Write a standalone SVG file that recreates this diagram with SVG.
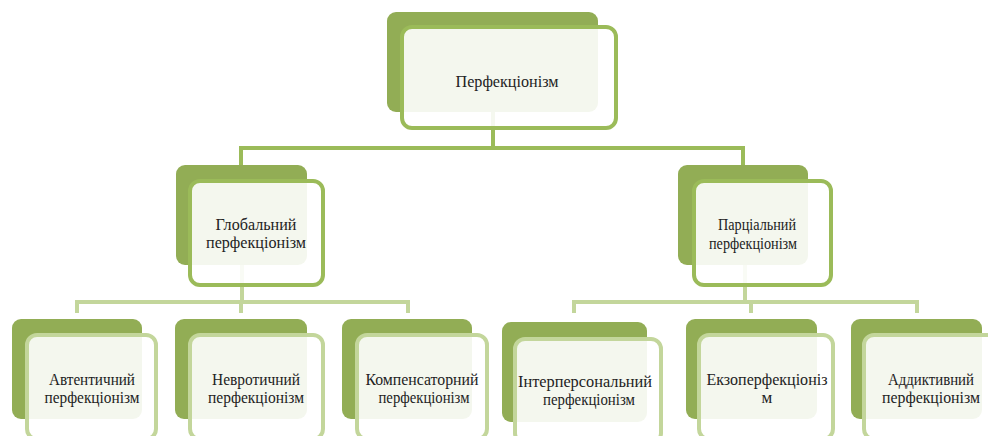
<svg xmlns="http://www.w3.org/2000/svg" width="988" height="436" viewBox="0 0 988 436">
<style>
.back{fill:#92ad55}
.front{fill:#ffffff;fill-opacity:0.9;stroke-width:4}
.f1{stroke:#9bbb59}
.f2{stroke:#c3d69b}
.c1{fill:none;stroke:#9bbb59;stroke-width:4}
.c2{fill:none;stroke:#c3d69b;stroke-width:4}
text{font-family:"Liberation Serif","Times New Roman",serif;font-size:17px;fill:#222222;text-anchor:middle}
</style>
<rect width="988" height="436" fill="#ffffff"/>
<g id="connectors">
<path class="c1" d="M493 112 V148 M241 165 V148 H743 V165"/>
<path class="c2" d="M242 265 V302 M77 313 V302 H408 V313 M241 302 V313"/>
<path class="c2" d="M745 265 V302 M574 313 V302 H917 V313 M751 302 V313"/>
</g>
<g id="node-perfectionism">
<rect class="back" x="387" y="12" width="211" height="100" rx="9"/>
<rect class="front f1" x="402" y="27" width="214" height="101" rx="10"/>
<text x="507" y="87" font-size="18" textLength="103" lengthAdjust="spacingAndGlyphs">Перфекціонізм</text>
</g>
<g id="node-global">
<rect class="back" x="176" y="165" width="131" height="100" rx="9"/>
<rect class="front f1" x="190" y="181" width="133" height="104" rx="10"/>
<text x="256" y="230" textLength="81" lengthAdjust="spacingAndGlyphs">Глобальний</text>
<text x="256" y="248" textLength="100" lengthAdjust="spacingAndGlyphs">перфекціонізм</text>
</g>
<g id="node-partial">
<rect class="back" x="678" y="165" width="130" height="100" rx="9"/>
<rect class="front f1" x="694" y="181" width="137" height="104" rx="10"/>
<text x="757" y="230" textLength="78" lengthAdjust="spacingAndGlyphs">Парціальний</text>
<text x="753" y="249" textLength="88" lengthAdjust="spacingAndGlyphs">перфекціонізм</text>
</g>
<g id="node-authentic">
<rect class="back" x="12" y="319" width="130" height="100" rx="9"/>
<rect class="front f2" x="27" y="335" width="129" height="104" rx="10"/>
<text x="92" y="385" textLength="86" lengthAdjust="spacingAndGlyphs">Автентичний</text>
<text x="92" y="403" textLength="95" lengthAdjust="spacingAndGlyphs">перфекціонізм</text>
</g>
<g id="node-neurotic">
<rect class="back" x="175" y="319" width="132" height="100" rx="9"/>
<rect class="front f2" x="190" y="335" width="133" height="104" rx="10"/>
<text x="256" y="385" textLength="88" lengthAdjust="spacingAndGlyphs">Невротичний</text>
<text x="256" y="403" textLength="96" lengthAdjust="spacingAndGlyphs">перфекціонізм</text>
</g>
<g id="node-compensatory">
<rect class="back" x="342" y="319" width="130" height="100" rx="9"/>
<rect class="front f2" x="357" y="335" width="130" height="104" rx="10"/>
<text x="422" y="385" textLength="113" lengthAdjust="spacingAndGlyphs">Компенсаторний</text>
<text x="424" y="403" textLength="91" lengthAdjust="spacingAndGlyphs">перфекціонізм</text>
</g>
<g id="node-interpersonal">
<rect class="back" x="502" y="322" width="145" height="100" rx="9"/>
<rect class="front f2" x="515" y="339" width="146" height="104" rx="10"/>
<text x="585" y="387" textLength="134" lengthAdjust="spacingAndGlyphs">Інтерперсональний</text>
<text x="589" y="405" textLength="92" lengthAdjust="spacingAndGlyphs">перфекціонізм</text>
</g>
<g id="node-exo">
<rect class="back" x="686" y="319" width="131" height="100" rx="9"/>
<rect class="front f2" x="699" y="335" width="134" height="104" rx="10"/>
<text x="767" y="385" textLength="121" lengthAdjust="spacingAndGlyphs">Екзоперфекціоніз</text>
<text x="767" y="403">м</text>
</g>
<g id="node-addictive">
<rect class="back" x="851" y="319" width="131" height="100" rx="9"/>
<rect class="front f2" x="864" y="335" width="134" height="104" rx="10"/>
<text x="931" y="385" textLength="86" lengthAdjust="spacingAndGlyphs">Аддиктивний</text>
<text x="931" y="403" textLength="98" lengthAdjust="spacingAndGlyphs">перфекціонізм</text>
</g>
</svg>
